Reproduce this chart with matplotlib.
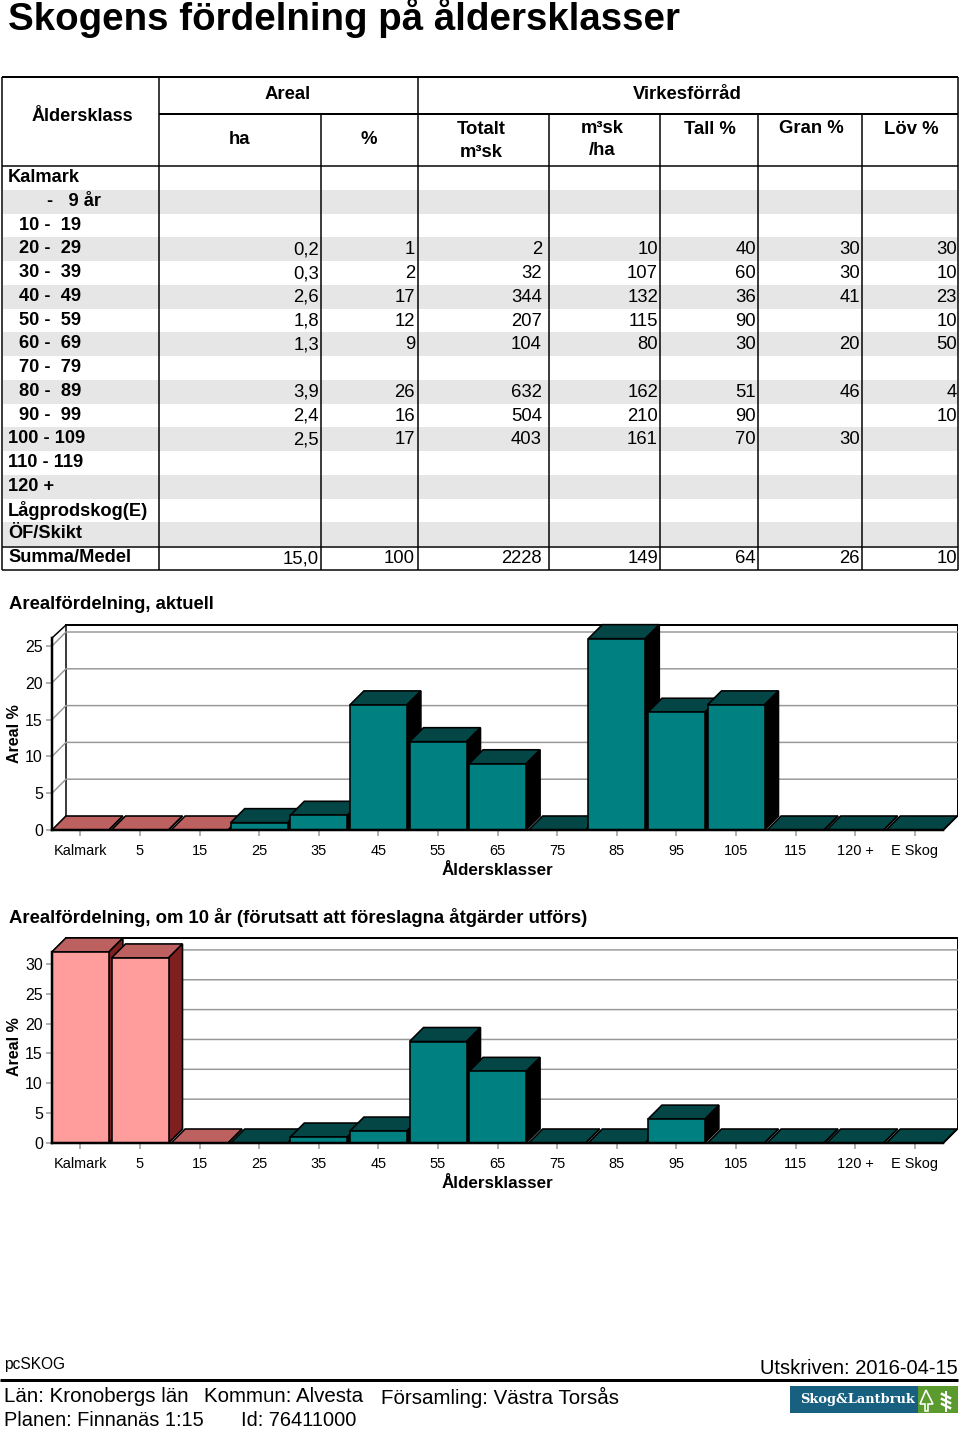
import matplotlib
matplotlib.use("Agg")
import matplotlib.pyplot as plt
from matplotlib.patches import Polygon, Rectangle

W, H = 960, 1429
plt.rcParams['font.family'] = ['Liberation Sans', 'DejaVu Sans']

# table data
rows = ["Kalmark", "-   9 år", "10 -  19", "20 -  29", "30 -  39", "40 -  49", "50 -  59",
        "60 -  69", "70 -  79", "80 -  89", "90 -  99", "100 - 109", "110 - 119",
        "120 +", "Lågprodskog(E)", "ÖF/Skikt", "Summa/Medel"]
ha = ["", "", "", "0,2", "0,3", "2,6", "1,8", "1,3", "", "3,9", "2,4", "2,5", "", "", "", "", "15,0"]
pct = ["", "", "", "1", "2", "17", "12", "9", "", "26", "16", "17", "", "", "", "", "100"]
totalt = ["", "", "", "2", "32", "344", "207", "104", "", "632", "504", "403", "", "", "", "", "2228"]
m3ha = ["", "", "", "10", "107", "132", "115", "80", "", "162", "210", "161", "", "", "", "", "149"]
tall = ["", "", "", "40", "60", "36", "90", "30", "", "51", "90", "70", "", "", "", "", "64"]
gran = ["", "", "", "30", "30", "41", "", "20", "", "46", "", "30", "", "", "", "", "26"]
lov = ["", "", "", "30", "10", "23", "10", "50", "", "4", "10", "", "", "", "", "", "10"]

# chart data
age_labels = ["Kalmark", "5", "15", "25", "35", "45", "55", "65", "75", "85", "95", "105", "115", "120 +", "E Skog"]
areal_now = [0, 0, 0, 1, 2, 17, 12, 9, 0, 26, 16, 17, 0, 0, 0]
areal_10 = [32, 31, 0, 0, 1, 2, 17, 12, 0, 0, 4, 0, 0, 0, 0]
pink_now = 3   # first bars in the red colour
pink_10 = 3

fig = plt.figure(figsize=(W / 100, H / 100), dpi=100)
page = fig.add_axes([0, 0, 1, 1])
page.set_xlim(0, W)
page.set_ylim(H, 0)
page.axis("off")


def px(n):
    return n * 0.72


def txt(x, y, s, size, bold=False, ha="left", **kw):
    page.text(x, y, s, fontsize=px(size), fontweight="bold" if bold else "normal",
              ha=ha, va="center", color="black", **kw)


def line(x0, y0, x1, y1, w=1.5, c="black"):
    page.plot([x0, x1], [y0, y1], color=c, lw=px(w), solid_capstyle="butt", zorder=3)


txt(8, 18, "Skogens fördelning på åldersklasser", 38.5, True)

# table
row_h = 23.75
top_body = 166
for i in range(len(rows)):
    if i % 2 == 1 and i < 16:
        page.add_patch(Rectangle((3, top_body + i * row_h), 955, row_h, fc="#e6e6e6", ec="none", zorder=1))

right_edge = 958
bottom = 570
line(2, 77, right_edge, 77, 2)
line(2, 77, 2, bottom, 1.5)
line(right_edge, 77, right_edge, bottom, 1.5)
line(159, 114, right_edge, 114, 2)
line(2, 166, right_edge, 166, 1.5)
line(2, 547, right_edge, 547, 1.5)
line(2, bottom, right_edge, bottom, 1.5)
line(159, 77, 159, bottom)
line(418, 77, 418, bottom)
for x in [321, 549, 660, 758, 862]:
    line(x, 114, x, bottom)

txt(82, 116, "Åldersklass", 18.2, True, ha="center")
txt(288, 94, "Areal", 18.5, True, ha="center")
txt(687, 94, "Virkesförråd", 18.5, True, ha="center")
txt(239, 139, "ha", 18.5, True, ha="center")
txt(369, 139, "%", 18.5, True, ha="center")
txt(481, 129, "Totalt", 18.5, True, ha="center")
txt(481, 152, "m³sk", 18.5, True, ha="center")
txt(602, 128, "m³sk", 18.5, True, ha="center")
txt(602, 150, "/ha", 18.5, True, ha="center")
txt(710, 129, "Tall %", 18.5, True, ha="center")
txt(811, 128, "Gran %", 18.5, True, ha="center")
txt(911, 129, "Löv %", 18.5, True, ha="center")

columns = [ha, pct, totalt, m3ha, tall, gran, lov]
col_right = [319, 415, 542, 658, 756, 860, 957]
for i, label in enumerate(rows):
    y = top_body + (i + 0.45) * row_h + 1
    if label.startswith("-"):
        x = 47
    elif label[:2].isdigit() and label[2] == " ":
        x = 19
    else:
        x = 8
    txt(x, y, label, 18.3, True)
    for col, xr in zip(columns, col_right):
        if col[i]:
            txt(xr, y + 1, col[i], 18.5, ha="right")


def chart(values, n_pink, y0, ppu, axis_top, wall_top, ymax_tick, title, title_y):
    slot = 59.6
    depth = 14
    ax = fig.add_axes([52 / W, 1 - y0 / H, (957 - 52) / W, (y0 - axis_top) / H])
    ax.set_xlim((52 - 80.4) / slot, (957 - 80.4) / slot)
    ax.set_ylim(0, (y0 - axis_top) / ppu)
    ax.patch.set_alpha(0)
    for s in ax.spines.values():
        s.set_visible(False)
    dx = depth / slot
    dy = depth / ppu
    half = 28.5 / slot
    xl, xr = ax.get_xlim()
    ytop = (y0 - wall_top) / ppu

    # back wall
    ax.plot([xl + dx, xl + dx], [dy, ytop], color="black", lw=px(1.5), clip_on=False)
    ax.plot([xl + dx, xr], [ytop, ytop], color="black", lw=px(2), clip_on=False)
    ax.plot([xr, xr], [dy, ytop], color="black", lw=px(1), clip_on=False)
    ax.plot([xl, xl + dx], [ax.get_ylim()[1], ytop], color="black", lw=px(1.5), clip_on=False)
    ticks = list(range(0, ymax_tick + 1, 5))
    for t in ticks[1:]:
        ax.plot([xl, xl + dx, xr], [t, t + dy, t + dy], color="#999999", lw=px(1.5), clip_on=False)

    # bars
    for i, v in enumerate(values):
        pink = i < n_pink
        front = "#ff9c9c" if pink else "#008080"
        top = "#bd6060" if pink else "#044545"
        side = "#7f2020" if pink else "#000000"
        a, b = i - half, i + half
        kw = dict(ec="black", lw=px(1.6), clip_on=False, joinstyle="miter", zorder=3 + i * 0.01)
        ax.add_patch(Polygon([(a, v), (b, v), (b + dx, v + dy), (a + dx, v + dy)], fc=top, **kw))
        ax.add_patch(Polygon([(b, 0), (b + dx, dy), (b + dx, v + dy), (b, v)], fc=side, **kw))
        if v > 0:
            ax.add_patch(Polygon([(a, 0), (b, 0), (b, v), (a, v)], fc=front, **kw))

    # axes lines on top
    ax.plot([xl, xl], [0, ax.get_ylim()[1]], color="black", lw=px(2.5), clip_on=False, zorder=5)
    ax.plot([xl, len(values) - 1 + half], [0, 0], color="black", lw=px(2.5), clip_on=False, zorder=5)

    ax.set_yticks(ticks)
    ax.set_xticks(range(len(age_labels)))
    ax.set_xticklabels(age_labels)
    ax.tick_params(axis="y", length=px(6), width=px(1.5), color="#999999", labelsize=px(16), pad=px(3))
    ax.tick_params(axis="x", length=px(6), width=px(1.5), color="#999999", labelsize=px(14.5), pad=px(8))

    txt(9, title_y, title, 18.5, True)
    txt(497, y0 + 40, "Åldersklasser", 17, True, ha="center")
    txt(14.5, y0 - 96, "Areal %", 16, True, ha="center", rotation=90)


chart(areal_now, pink_now, 830, 7.36, 638, 625, 25, "Arealfördelning, aktuell", 604)
chart(areal_10, pink_10, 1143, 5.97, 952, 938, 30,
      "Arealfördelning, om 10 år (förutsatt att föreslagna åtgärder utförs)", 917)

# footer
line(0, 1379.5, 958, 1379.5, 3)
txt(4, 1365, "pcSKOG", 15.5)
txt(958, 1368, "Utskriven: 2016-04-15", 20.2, ha="right")
txt(4, 1397, "Län: Kronobergs län", 20.5)
txt(204, 1397, "Kommun: Alvesta", 20.5)
txt(381, 1397, "Församling: Västra Torsås", 20.5)
txt(4, 1420, "Planen: Finnanäs 1:15", 20)
txt(241, 1420, "Id: 76411000", 20)

# logo
page.add_patch(Rectangle((790, 1386), 128, 27, fc="#17607f", ec="none", zorder=2))
page.add_patch(Rectangle((918, 1386), 40, 27, fc="#5b9b2e", ec="none", zorder=2))
page.text(800, 1400, "Skog&Lantbruk", fontsize=px(13), fontweight="bold", color="white",
          family=["DejaVu Serif"], va="center", zorder=4)
page.add_patch(Polygon([(920, 1404), (926, 1390), (933, 1404), (928, 1404), (928, 1411), (925, 1411), (925, 1404)],
                       fc="none", ec="white", lw=px(1.6), zorder=4))
page.plot([946, 946], [1392, 1411], color="white", lw=px(2), zorder=4)
for yy in [1396, 1401, 1406]:
    page.plot([942, 950], [yy - 2, yy + 2], color="white", lw=px(2.5), zorder=4)

fig.savefig("out.png", dpi=100)
